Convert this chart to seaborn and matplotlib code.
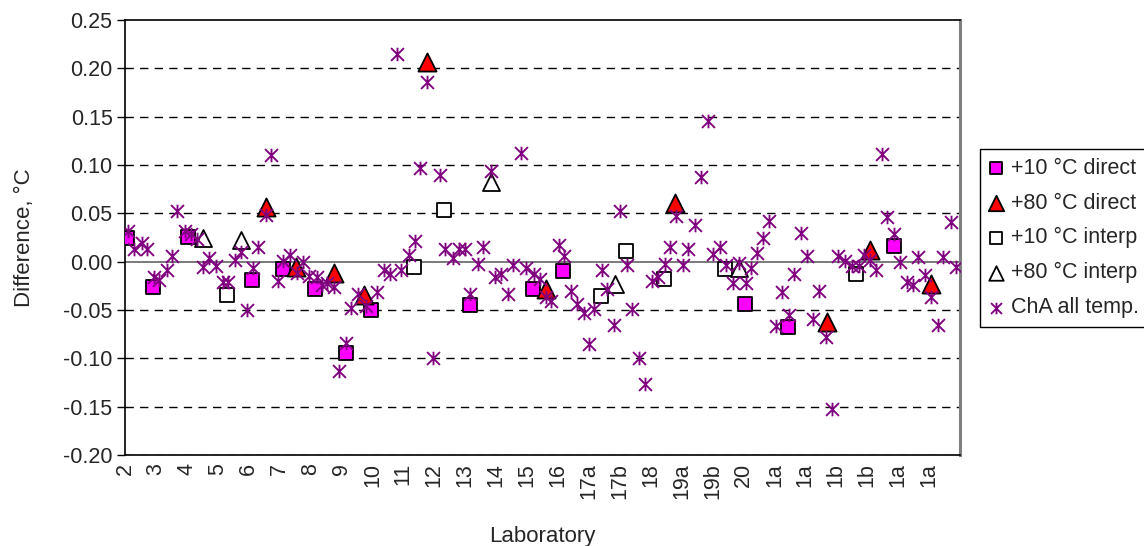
import numpy as np
import pandas as pd
import matplotlib
matplotlib.use("Agg")
import matplotlib.pyplot as plt
from matplotlib.path import Path
import seaborn as sns

# ---- data ----
labs = ["2", "3", "4", "5", "6", "7", "8", "9", "10", "11", "12", "13", "14",
        "15", "16", "17a", "17b", "18", "19a", "19b", "20", "1a", "1a", "1b",
        "1b", "1a", "1a"]
yticks = [-0.20, -0.15, -0.10, -0.05, 0.00, 0.05, 0.10, 0.15, 0.20, 0.25]

d10_x = [0.08, 0.91, 2.05, 4.11, 5.10, 6.14, 7.14, 7.94, 11.15, 13.18, 14.17,
         20.04, 21.45, 24.86]
d10_y = [0.024, -0.026, 0.026, -0.019, -0.008, -0.028, -0.094, -0.050,
         -0.045, -0.028, -0.010, -0.044, -0.068, 0.016]

d80_x = [4.55, 5.52, 6.76, 7.74, 9.78, 13.61, 17.80, 22.69, 24.09, 26.06]
d80_y = [0.057, -0.006, -0.012, -0.034, 0.207, -0.028, 0.061, -0.062, 0.012,
         -0.023]

i10_x = [3.29, 9.34, 10.33, 15.39, 16.21, 17.43, 19.40, 23.65]
i10_y = [-0.034, -0.005, 0.053, -0.036, 0.011, -0.018, -0.008, -0.013]

i80_x = [2.53, 3.74, 11.82, 15.84, 19.84]
i80_y = [0.025, 0.022, 0.082, -0.023, -0.007]

cha_x = [0.11, 0.29, 0.54, 0.72, 0.95, 1.11, 1.35, 1.51, 1.69, 1.94, 2.12,
         2.34, 2.51, 2.72, 2.93, 3.16, 3.34, 3.56, 3.74, 3.96, 4.13, 4.31,
         4.55, 4.72, 4.96, 5.12, 5.35, 5.55, 5.75, 5.96, 6.20, 6.36, 6.53,
         6.76, 6.93, 7.14, 7.31, 7.55, 7.78, 8.14, 8.38, 8.57, 8.80, 8.94,
         9.19, 9.38, 9.54, 9.78, 9.97, 10.18, 10.35, 10.59, 10.79, 11.00,
         11.17, 11.40, 11.58, 11.82, 11.97, 12.15, 12.40, 12.55, 12.79,
         12.98, 13.21, 13.42, 13.62, 13.79, 14.02, 14.18, 14.42, 14.60,
         14.83, 15.01, 15.18, 15.41, 15.57, 15.81, 16.00, 16.22, 16.41,
         16.63, 16.81, 17.05, 17.22, 17.45, 17.62, 17.81, 18.03, 18.21,
         18.43, 18.63, 18.86, 19.01, 19.25, 19.44, 19.65, 19.85, 20.07,
         20.24, 20.42, 20.64, 20.82, 21.04, 21.23, 21.46, 21.64, 21.85,
         22.05, 22.26, 22.45, 22.68, 22.87, 23.04, 23.28, 23.50, 23.72,
         23.88, 24.10, 24.28, 24.48, 24.65, 24.87, 25.07, 25.28, 25.49,
         25.65, 25.87, 26.06, 26.29, 26.45, 26.70, 26.88]
cha_y = [0.032, 0.013, 0.019, 0.013, -0.016, -0.019, -0.009, 0.006, 0.052,
         0.032, 0.029, 0.023, -0.006, 0.004, -0.004, -0.021, -0.021, 0.002,
         0.010, -0.050, -0.007, 0.015, 0.048, 0.110, -0.020, 0.001, 0.0065,
         -0.012, 0.000, -0.015, -0.016, -0.0245, -0.022, -0.026, -0.113,
         -0.084, -0.048, -0.033, -0.046, -0.031, -0.009, -0.013, 0.2146,
         -0.009, 0.0065, 0.021, 0.097, 0.186, -0.100, 0.090, 0.0134, 0.004,
         0.0134, 0.0134, -0.033, -0.002, 0.015, 0.094, -0.016, -0.0124,
         -0.033, -0.003, 0.112, -0.007, -0.0124, -0.018, -0.037, -0.041,
         0.017, 0.006, -0.030, -0.044, -0.053, -0.085, -0.049, -0.009,
         -0.028, -0.065, 0.052, -0.003, -0.049, -0.100, -0.127, -0.020,
         -0.016, -0.002, 0.015, 0.047, -0.003, 0.0134, 0.038, 0.088, 0.146,
         0.008, 0.015, -0.003, -0.022, -0.001, -0.022, -0.007, 0.009, 0.025,
         0.042, -0.067, -0.031, -0.055, -0.013, 0.030, 0.006, -0.059, -0.030,
         -0.078, -0.152, 0.006, 0.001, -0.004, -0.004, 0.007, 0.002, -0.009,
         0.111, 0.046, 0.029, 0.000, -0.021, -0.0245, 0.005, -0.014, -0.037,
         -0.065, 0.005, 0.041, -0.006]

labels = ["+10 \u00b0C direct", "+80 \u00b0C direct", "+10 \u00b0C interp",
          "+80 \u00b0C interp", "ChA all temp."]

# ---- style ----
sns.set_theme(style="white")
plt.rcParams["font.family"] = ["Liberation Sans", "DejaVu Sans"]
FS = 15.5

fig = plt.figure(figsize=(11.44, 5.46), dpi=100)
ax = fig.add_axes([125 / 1144, 1 - 455 / 546, (960 - 125) / 1144, (455 - 20) / 546])

# asterisk marker: X plus vertical stroke
star = Path([(-1, -1), (1, 1), (-1, 1), (1, -1), (0, -1.05), (0, 1.05)],
            [Path.MOVETO, Path.LINETO, Path.MOVETO, Path.LINETO,
             Path.MOVETO, Path.LINETO])

sns.scatterplot(x=d10_x, y=d10_y, ax=ax, marker="s", s=110, color="#FF00FF",
                edgecolor="black", linewidth=1.3, label=labels[0], zorder=3)
sns.scatterplot(x=d80_x, y=d80_y, ax=ax, marker="^", s=170, color="#FF0000",
                edgecolor="black", linewidth=1.3, label=labels[1], zorder=3)
sns.scatterplot(x=i10_x, y=i10_y, ax=ax, marker="s", s=110, color="white",
                edgecolor="black", linewidth=1.3, label=labels[2], zorder=3)
sns.scatterplot(x=i80_x, y=i80_y, ax=ax, marker="^", s=150, color="white",
                edgecolor="black", linewidth=1.3, label=labels[3], zorder=3)
sns.scatterplot(x=cha_x, y=cha_y, ax=ax, marker=star, s=95, color="#800080",
                edgecolor="#800080", linewidth=1.35, label=labels[4], zorder=4)

# ---- axes ----
ax.set_xlim(0, 27)
ax.set_ylim(-0.20, 0.25)
ax.set_xticks(range(len(labs)))
ax.set_xticklabels(labs, rotation=90, fontsize=FS)
ax.set_yticks(yticks)
ax.set_yticklabels([f"{v:.2f}" for v in yticks], fontsize=FS)
ax.tick_params(axis="x", length=0, pad=6)
ax.tick_params(axis="y", direction="out", length=6, width=1, color="black",
               left=True, pad=3)

for v in yticks:
    if abs(v) < 1e-9:
        ax.axhline(v, color="#707070", lw=1.3, zorder=1)
    elif v < 0.249:
        ax.axhline(v, color="black", lw=1.0, ls=(0, (6, 4.5)), zorder=1)

for side in ["left", "bottom", "top"]:
    ax.spines[side].set_color("black")
    ax.spines[side].set_linewidth(1.2)
ax.spines["right"].set_color("#808080")
ax.spines["right"].set_linewidth(2.2)

ax.set_xlabel("Laboratory", fontsize=FS + 0.5, labelpad=19)
ax.set_ylabel("Difference, \u00b0C", fontsize=FS + 0.5, labelpad=20)

leg = ax.legend(loc="center left", bbox_to_anchor=(980 / 1144, 1 - 238 / 546),
                bbox_transform=fig.transFigure, frameon=True, fancybox=False,
                edgecolor="black", fontsize=FS, handlelength=0.7,
                handletextpad=0.35, labelspacing=0.64, borderpad=0.4,
                borderaxespad=0, markerscale=0.85, framealpha=1)
leg.get_frame().set_linewidth(1.0)

fig.savefig("out.png", dpi=100)
